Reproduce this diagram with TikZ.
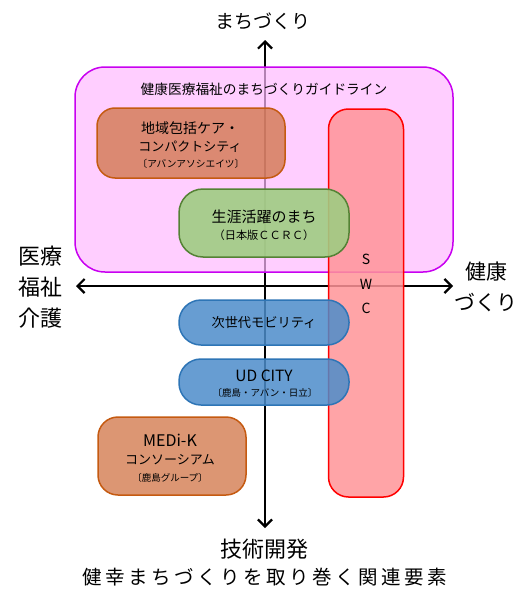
\documentclass[tikz,border=0pt]{standalone}
\usepackage{fontspec}
\setmainfont{Noto Sans CJK JP}
\usetikzlibrary{arrows.meta}
\definecolor{pinkfill}{RGB}{255,185,255}
\definecolor{pinkline}{RGB}{200,0,240}
\definecolor{redfill}{RGB}{255,148,152}
\definecolor{redline}{RGB}{255,0,0}
\definecolor{orfill}{RGB}{208,115,68}
\definecolor{orline}{RGB}{197,90,17}
\definecolor{grfill}{RGB}{160,205,130}
\definecolor{grline}{RGB}{84,130,53}
\definecolor{blfill}{RGB}{76,140,202}
\definecolor{blline}{RGB}{46,117,182}
\newcommand{\myfs}[1]{\fontsize{#1}{#1}\selectfont}
\tikzset{
  box/.style={draw, line width=1.5pt, inner sep=0pt},
  axisline/.style={line width=2.2pt,
    {Straight Barb[length=7pt,width=14pt]}-{Straight Barb[length=7pt,width=14pt]}},
  lbl/.style={inner sep=0pt, align=center, text=black},
}
\begin{document}
\begin{tikzpicture}[x=1pt,y=-1pt]
\useasboundingbox (0,0) rectangle (522,589);
% axes
\coordinate (top) at (265,40);
\coordinate (bot) at (265,528);
\coordinate (lft) at (76,286);
\coordinate (rgt) at (453,286);
\draw[axisline] (top) -- (bot);
\draw[axisline] (lft) -- (rgt);
% axis labels
\node[lbl, font=\myfs{19}] (ltop) at (263,21) {まちづくり};
\node[lbl, font=\myfs{22}] (lbot) at (264,549) {技術開発};
\node[lbl, font=\fontsize{22}{31}\selectfont] (llft) at (41,287) {医療\\福祉\\介護};
\node[lbl, font=\fontsize{21}{31}\selectfont] (lrgt) at (486,287) {健康\\づくり};
\node[lbl, font=\myfs{19.5}] (cap) at (265,577) {健\kern3.5pt 幸\kern3.5pt ま\kern3.5pt ち\kern3.5pt づ\kern3.5pt く\kern3.5pt り\kern3.5pt を\kern3.5pt 取\kern3.5pt り\kern3.5pt 巻\kern3.5pt く\kern3.5pt 関\kern3.5pt 連\kern3.5pt 要\kern3.5pt 素};
% guideline box
\node[box, draw=pinkline, fill=pinkfill, fill opacity=0.7, rounded corners=30pt,
  minimum width=378pt, minimum height=205pt] (guide) at (264,169.5) {};
\node[lbl, font=\myfs{13.7}] (guidet) at (264,89) {健康医療福祉のまちづくりガイドライン};
% SWC
\node[box, draw=redline, fill=redfill, fill opacity=0.85, rounded corners=20pt,
  minimum width=75pt, minimum height=388pt] (swc) at (366,303) {};
\node[lbl, font=\myfs{14}] (swcs) at (366,259) {S};
\node[lbl, font=\myfs{14}] (swcw) at (366,284) {W};
\node[lbl, font=\myfs{14}] (swcc) at (366,308) {C};
% orange box 1
\node[box, draw=orline, fill=orfill, fill opacity=0.75, rounded corners=18pt,
  minimum width=188pt, minimum height=70pt] (care) at (191,143) {};
\node[lbl, font=\myfs{14}] (care1) at (190,128) {地域包括ケア・};
\node[lbl, font=\myfs{13}] (care2) at (190,147) {コンパクトシティ};
\node[lbl, font=\myfs{9.7}] (care3) at (191,164) {〔アバンアソシエイツ〕};
% green
\node[box, draw=grline, fill=grfill, fill opacity=0.9, rounded corners=24pt,
  minimum width=170pt, minimum height=68pt] (ccrc) at (264,223) {};
\node[lbl, font=\myfs{15}] (ccrc1) at (264,217) {生涯活躍のまち};
\node[lbl, font=\myfs{11.2}] (ccrc2) at (264,235) {（日本版ＣＣＲＣ）};
% blue 1
\node[box, draw=blline, fill=blfill, fill opacity=0.85, rounded corners=22pt,
  minimum width=170pt, minimum height=45pt] (mob) at (264,322.5) {};
\node[lbl, font=\myfs{13.2}] (mobt) at (264,323) {次世代モビリティ};
% blue 2
\node[box, draw=blline, fill=blfill, fill opacity=0.85, rounded corners=22pt,
  minimum width=170pt, minimum height=46pt] (ud) at (264,382) {};
\node[lbl, font=\myfs{15.5}] (ud1) at (264,376) {UD CITY};
\node[lbl, font=\myfs{9.5}] (ud2) at (265,393) {〔鹿島・アバン・日立〕};
% orange 2
\node[box, draw=orline, fill=orfill, fill opacity=0.75, rounded corners=20pt,
  minimum width=148pt, minimum height=78pt] (medi) at (172,456) {};
\node[lbl, font=\myfs{16}] (medi1) at (170,440) {MEDi-K};
\node[lbl, font=\myfs{13}] (medi2) at (170,460) {コンソーシアム};
\node[lbl, font=\myfs{9.5}] (medi3) at (170,478) {〔鹿島グループ〕};
\end{tikzpicture}
\end{document}
